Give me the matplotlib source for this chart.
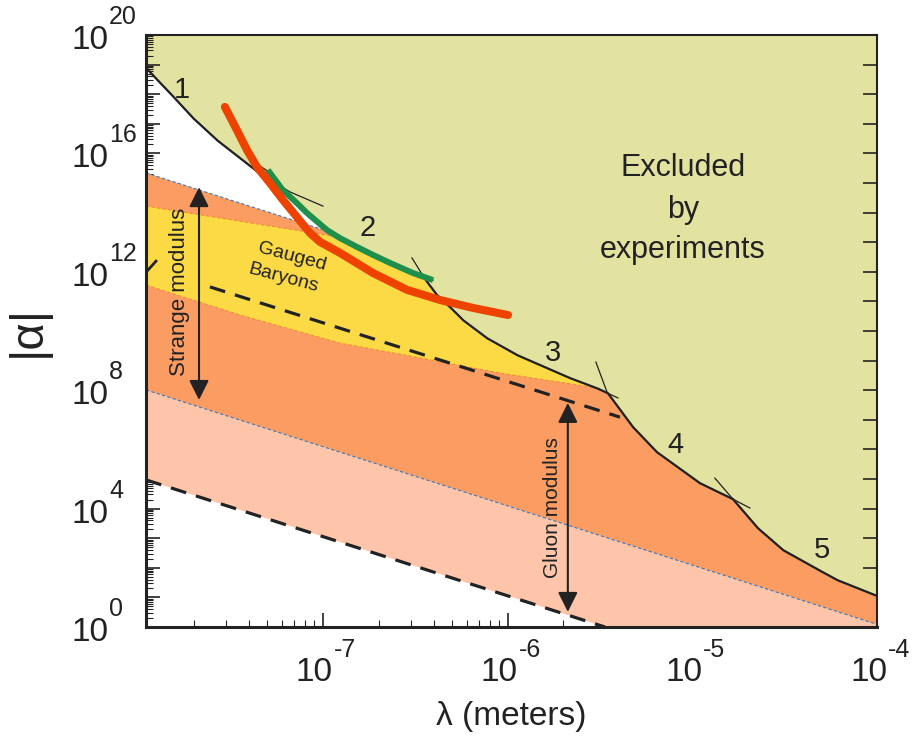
import numpy as np
import matplotlib
matplotlib.use("Agg")
import matplotlib.pyplot as plt
from matplotlib.ticker import LogLocator, NullFormatter
from matplotlib.patches import Polygon

plt.rcParams['font.family'] = ['Liberation Sans', 'DejaVu Sans']

# ---------------- data (log10 lambda [m], log10 |alpha|) ----------------
XMIN_LOG = -7.958
XMAX_LOG = -4.0

x_tick_exps = [-7, -6, -5, -4]
y_tick_exps = [0, 4, 8, 12, 16, 20]

curve1_x = [-7.958, -7.937, -7.828, -7.704, -7.574, -7.449, -7.352, -7.179, -7.0]
curve1_y = [18.92, 18.75, 18.04, 17.20, 16.45, 15.84, 15.37, 14.70, 14.22]

curve2_x = [-7.368, -7.298, -7.217, -7.141, -7.087, -6.978, -6.908, -6.816, -6.729, -6.637, -6.513, -6.404]
curve2_y = [15.68, 15.40, 14.76, 14.32, 13.99, 13.41, 13.14, 12.84, 12.57, 12.30, 11.96, 11.72]

curve3_x = [-6.518, -6.448, -6.383, -6.312, -6.242, -6.112, -5.950, -5.787, -5.663, -5.517, -5.403]
curve3_y = [12.47, 11.76, 11.22, 10.81, 10.37, 9.76, 9.19, 8.75, 8.41, 8.07, 7.74]

curve4_x = [-5.522, -5.462, -5.322, -5.192, -4.959, -4.780, -4.688]
curve4_y = [8.95, 7.94, 6.76, 5.91, 4.86, 4.32, 4.02]

curve5_x = [-4.878, -4.780, -4.645, -4.509, -4.363, -4.217, -4.0]
curve5_y = [5.03, 4.32, 3.34, 2.60, 2.09, 1.59, 1.05]

curve_labels = ['1', '2', '3', '4', '5']
curve_label_x = [-7.763, -6.756, -5.755, -5.094, -4.298]
curve_label_y = [18.14, 13.48, 9.26, 6.15, 2.60]

red_x = [-7.531, -7.466, -7.411, -7.357, -7.287, -7.217, -7.141, -7.070, -7.016,
         -6.908, -6.729, -6.545, -6.367, -6.188, -5.998]
red_y = [17.57, 16.79, 16.11, 15.54, 15.00, 14.43, 13.85, 13.31, 13.01,
         12.64, 11.96, 11.39, 11.05, 10.78, 10.54]

green_x = [-7.298, -7.217, -7.141, -7.087, -6.978, -6.908, -6.816, -6.729, -6.637, -6.513, -6.404]
green_y = [15.44, 14.76, 14.32, 13.99, 13.41, 13.14, 12.84, 12.57, 12.30, 11.96, 11.72]

strange_top_x = [-7.958, -4.0]
strange_top_y = [15.34, 7.42]

yellow_top_x = [-7.958, -5.30]
yellow_top_y = [14.22, 11.56]

yellow_bot_x = [-7.958, -7.449, -6.908, -6.475, -6.042, -5.446]
yellow_bot_y = [11.55, 10.54, 9.59, 9.09, 8.58, 8.01]

gluon_top_x = [-7.958, -4.0]
gluon_top_y = [8.01, 0.09]

gluon_bot_x = [-7.958, -5.473]
gluon_bot_y = [4.97, 0.0]

baryon_dash_x = [-7.612, -5.392]
baryon_dash_y = [11.49, 7.09]

slash_x = [-7.947, -7.904]
slash_y = [12.06, 12.36]

strange_arrow_x = -7.671
strange_arrow_y = [14.86, 7.67]
gluon_arrow_x = -5.674
gluon_arrow_y = [7.57, 0.51]

# ---------------- colours ----------------
KHAKI = '#E3E3A1'
ORANGE = '#FB9D63'
YELLOW = '#FCDA45'
PINK = '#FFC5AA'
RED = '#EE4200'
GREEN = '#1F8F4B'
INK = '#222222'

def P(xs, ys):
    return 10.0 ** np.asarray(xs), 10.0 ** np.asarray(ys)

fig = plt.figure(figsize=(9.19, 7.49), dpi=100)
ax = fig.add_axes([146/919, 1-627/749, (877-146)/919, (627-35)/749])
ax.set_xscale('log')
ax.set_yscale('log')
ax.set_xlim(10**XMIN_LOG, 10**XMAX_LOG)
ax.set_ylim(1e0, 1e20)

# envelope of excluded region = lower envelope of the curves
grid = np.linspace(XMIN_LOG, XMAX_LOG, 1500)
env = np.full_like(grid, np.inf)
for cx, cy in [(curve1_x, curve1_y), (curve2_x, curve2_y), (curve3_x, curve3_y),
               (curve4_x, curve4_y), (curve5_x, curve5_y)]:
    v = np.where((grid >= cx[0]) & (grid <= cx[-1]), np.interp(grid, cx, cy), np.inf)
    env = np.minimum(env, v)

gx, gy = P(grid, env)
ax.fill_between(gx, gy, 1e21, color=KHAKI, lw=0, zorder=1)

clip_verts = np.column_stack([np.r_[gx, 10**XMAX_LOG * 2, 10**XMIN_LOG / 2],
                              np.r_[gy, 1e-3, 1e-3]])
clip_poly = Polygon(clip_verts, closed=True, transform=ax.transData)

def band(xt, yt, xb, yb, color, z):
    tx, ty = P(xt, yt)
    bx, by = P(xb, yb)
    verts = np.column_stack([np.r_[tx, bx[::-1]], np.r_[ty, by[::-1]]])
    poly = Polygon(verts, closed=True, facecolor=color, edgecolor='none', zorder=z)
    ax.add_patch(poly)
    poly.set_clip_path(clip_poly)

band(gluon_top_x, gluon_top_y, gluon_bot_x + [-4.0], gluon_bot_y + [-2.95], PINK, 2)
band(strange_top_x, strange_top_y, gluon_top_x, gluon_top_y, ORANGE, 3)
band(yellow_top_x, yellow_top_y, yellow_bot_x, yellow_bot_y, YELLOW, 4)

def clipped_line(xs, ys, **kw):
    ln, = ax.plot(*P(xs, ys), **kw)
    ln.set_clip_path(clip_poly)
    return ln

clipped_line(strange_top_x, strange_top_y, color='#3A78B8', lw=0.8, ls=(0, (3, 2)), zorder=5)
clipped_line(gluon_top_x, gluon_top_y, color='#3A78B8', lw=0.8, ls=(0, (3, 2)), zorder=5)
clipped_line(yellow_top_x, yellow_top_y, color='#F08A3A', lw=0.8, ls=(0, (3, 2)), zorder=5)
clipped_line(yellow_bot_x, yellow_bot_y, color='#F08A3A', lw=0.8, ls=(0, (3, 2)), zorder=5)

# dashed black lines
ax.plot(*P(baryon_dash_x, baryon_dash_y), color=INK, lw=2.3, ls=(0, (5, 3.2)), zorder=6)
ax.plot(*P(gluon_bot_x, gluon_bot_y), color=INK, lw=2.3, ls=(0, (5, 3.2)), zorder=6)
ax.plot(*P(slash_x, slash_y), color=INK, lw=2.0, zorder=6)

# experimental curves
for cx, cy in [(curve1_x, curve1_y), (curve2_x, curve2_y), (curve3_x, curve3_y),
               (curve4_x, curve4_y), (curve5_x, curve5_y)]:
    ax.plot(*P(cx, cy), color=INK, lw=0.9, zorder=7)
ax.plot(gx, gy, color=INK, lw=1.6, zorder=7)

ax.plot(*P(green_x, green_y), color=GREEN, lw=4.3, solid_capstyle='butt',
        solid_joinstyle='round', zorder=8)
ax.plot(*P(red_x, red_y), color=RED, lw=5.8, solid_capstyle='round',
        solid_joinstyle='round', zorder=9)

for t, lx, ly in zip(curve_labels, curve_label_x, curve_label_y):
    ax.text(10**lx, 10**ly, t, fontsize=21, color=INK, ha='center', va='center', zorder=10)

ax.text(10**-5.051, 10**15.51, 'Excluded', fontsize=22, color=INK, ha='center', va='center', zorder=10)
ax.text(10**-5.051, 10**14.09, 'by', fontsize=22, color=INK, ha='center', va='center', zorder=10)
ax.text(10**-5.051, 10**12.74, 'experiments', fontsize=22, color=INK, ha='center', va='center', zorder=10)

ax.text(10**-7.168, 10**12.50, 'Gauged', fontsize=14, color=INK, ha='center', va='center',
        rotation=-15, rotation_mode='anchor', zorder=10)
ax.text(10**-7.217, 10**11.79, 'Baryons', fontsize=14, color=INK, ha='center', va='center',
        rotation=-15, rotation_mode='anchor', zorder=10)

ax.text(10**-7.774, 10**11.32, 'Strange modulus', fontsize=16, color=INK, ha='center', va='center',
        rotation=90, zorder=10)
ax.text(10**-5.755, 10**4.05, 'Gluon modulus', fontsize=15, color=INK, ha='center', va='center',
        rotation=90, zorder=10)

arrow_kw = dict(arrowstyle='<|-|>', color=INK, lw=1.5, mutation_scale=30, shrinkA=0, shrinkB=0)
ax.annotate('', xy=(10**strange_arrow_x, 10**strange_arrow_y[0]),
            xytext=(10**strange_arrow_x, 10**strange_arrow_y[1]), arrowprops=arrow_kw, zorder=10)
ax.annotate('', xy=(10**gluon_arrow_x, 10**gluon_arrow_y[0]),
            xytext=(10**gluon_arrow_x, 10**gluon_arrow_y[1]), arrowprops=arrow_kw, zorder=10)

# ---------------- axes styling ----------------
ax.xaxis.set_major_locator(LogLocator(base=10, numticks=30))
ax.xaxis.set_minor_locator(LogLocator(base=10, subs=np.arange(2, 10), numticks=30))
ax.yaxis.set_major_locator(LogLocator(base=10, numticks=30))
ax.yaxis.set_minor_locator(LogLocator(base=10, subs=np.arange(2, 10), numticks=30))
ax.xaxis.set_major_formatter(NullFormatter())
ax.yaxis.set_major_formatter(NullFormatter())
ax.xaxis.set_minor_formatter(NullFormatter())
ax.yaxis.set_minor_formatter(NullFormatter())

ax.tick_params(which='major', direction='in', length=10, width=1.2, color=INK,
               left=True, right=True, bottom=True, top=False,
               labelleft=False, labelbottom=False)
ax.tick_params(which='minor', direction='in', length=5, width=0.8, color=INK,
               left=True, right=False, bottom=True, top=False)

PX = 0.72  # points per pixel at 100 dpi
for e in x_tick_exps:
    ax.annotate('10', xy=(10.0**e, 0), xycoords=('data', 'axes fraction'),
                xytext=(10*PX, -54*PX), textcoords='offset points',
                ha='right', va='baseline', fontsize=24, color=INK, annotation_clip=False)
    ax.annotate('%d' % e, xy=(10.0**e, 0), xycoords=('data', 'axes fraction'),
                xytext=(11*PX, -30*PX), textcoords='offset points',
                ha='left', va='baseline', fontsize=18, color=INK, annotation_clip=False)
for e in y_tick_exps:
    ax.annotate('10', xy=(0, 10.0**e), xycoords=('axes fraction', 'data'),
                xytext=(-38*PX, -14*PX), textcoords='offset points',
                ha='right', va='baseline', fontsize=24, color=INK, annotation_clip=False)
    ax.annotate('%d' % e, xy=(0, 10.0**e), xycoords=('axes fraction', 'data'),
                xytext=(-37*PX, 11*PX), textcoords='offset points',
                ha='left', va='baseline', fontsize=18, color=INK, annotation_clip=False)

for side in ['left', 'bottom']:
    ax.spines[side].set_linewidth(2.2)
for side in ['top', 'right']:
    ax.spines[side].set_linewidth(1.5)
for s in ax.spines.values():
    s.set_color(INK)
    s.set_zorder(11)

ax.set_xlabel('λ (meters)', fontsize=24, color=INK)
ax.xaxis.label.set_va('center')
ax.xaxis.set_label_coords(0.5, -0.152)
ax.set_ylabel('|α|', fontsize=34, color=INK)
ax.yaxis.label.set_va('center')
ax.yaxis.set_label_coords(-0.162, 0.5)

fig.savefig('out.png', dpi=100)
